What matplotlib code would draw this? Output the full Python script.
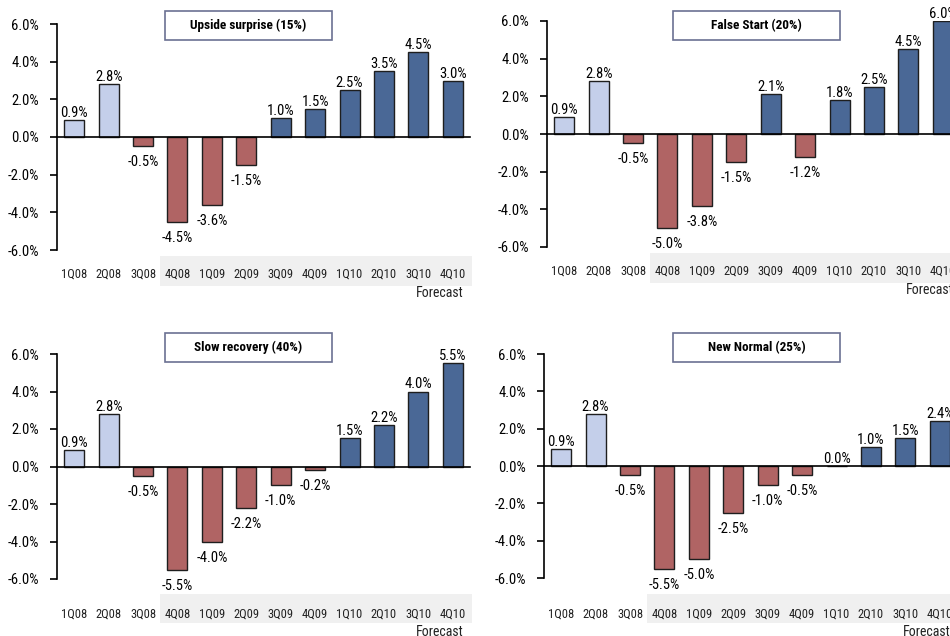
import matplotlib
matplotlib.use("Agg")
import matplotlib.pyplot as plt
from matplotlib.patches import Rectangle
from matplotlib.transforms import blended_transform_factory

plt.rcParams['font.family'] = ['Liberation Sans Narrow', 'Arial Narrow', 'Roboto Condensed',
                               'PT Sans Narrow', 'Archivo Narrow', 'Liberation Sans',
                               'DejaVu Sans']

quarters = ["1Q08", "2Q08", "3Q08", "4Q08", "1Q09", "2Q09",
            "3Q09", "4Q09", "1Q10", "2Q10", "3Q10", "4Q10"]

upside_surprise = [0.9, 2.8, -0.5, -4.5, -3.6, -1.5, 1.0, 1.5, 2.5, 3.5, 4.5, 3.0]
false_start = [0.9, 2.8, -0.5, -5.0, -3.8, -1.5, 2.1, -1.2, 1.8, 2.5, 4.5, 6.0]
slow_recovery = [0.9, 2.8, -0.5, -5.5, -4.0, -2.2, -1.0, -0.2, 1.5, 2.2, 4.0, 5.5]
new_normal = [0.9, 2.8, -0.5, -5.5, -5.0, -2.5, -1.0, -0.5, 0.0, 1.0, 1.5, 2.4]

titles = ["Upside surprise (15%)", "False Start (20%)",
          "Slow recovery (40%)", "New Normal (25%)"]
series = [upside_surprise, false_start, slow_recovery, new_normal]

yticks = [-6, -4, -2, 0, 2, 4, 6]
n_actual = 2          # quarters shown as reported figures
shade_from = 2.5      # start of the shaded band under the x labels

C_ACTUAL = "#c4cfea"
C_NEG = "#b06464"
C_POS = "#4a6896"
C_EDGE = "#1e1e1e"

W, H = 950, 636
fig = plt.figure(figsize=(W / 100, H / 100), dpi=100)

# panel boxes in pixels: (left, top, width, bottom), title box (x0, x1, y0, y1),
# and the gap below the axes for (band top, band bottom, label pad in pt, "Forecast")
panels = [
    ((57, 24, 413, 250), (165, 332, 11, 40), (6, 36, 12.8, 43)),
    ((547, 21, 413, 247), (673, 840, 11, 40), (6, 36, 12.8, 43)),
    ((57, 354, 413, 579), (165, 332, 333, 362), (15, 44, 20.7, 53)),
    ((544, 354, 413, 578), (673, 840, 333, 362), (16, 45, 21.0, 54)),
]

for (box, tbox, gap), title, vals in zip(panels, titles, series):
    left, top, width, bottom = box
    band_top, band_bot, label_pad, fc_off = gap
    h_ax = bottom - top
    ax = fig.add_axes([left / W, 1 - bottom / H, width / W, h_ax / H])
    x = list(range(len(quarters)))
    colors = [C_ACTUAL if i < n_actual else (C_NEG if v < 0 else C_POS)
              for i, v in enumerate(vals)]
    ax.bar(x, vals, width=0.58, color=colors, edgecolor=C_EDGE, linewidth=1.0, zorder=2)
    ax.set_xlim(-0.5, 11.5)
    ax.set_ylim(-6, 6)
    ax.axhline(0, color="black", linewidth=1.2, zorder=3, clip_on=False)

    for s in ["top", "right", "bottom"]:
        ax.spines[s].set_visible(False)
    ax.spines["left"].set_linewidth(1.2)
    ax.set_yticks(yticks)
    ax.set_yticklabels([f"{t:.1f}%" for t in yticks], fontsize=10.5)
    ax.tick_params(axis="y", direction="out", length=5, width=1.2, pad=8)
    ax.set_xticks(x)
    ax.set_xticklabels(quarters, fontsize=9, color="#222222")
    ax.tick_params(axis="x", length=0, pad=label_pad)

    for i, v in enumerate(vals):
        dy = 7 if v >= 0 else -16
        ax.annotate(f"{v:.1f}%", (i, v), xytext=(0, dy), textcoords="offset pixels",
                    ha="center", va="center", fontsize=10.5, zorder=4)

    # shaded band behind the forecast-period labels
    trans = blended_transform_factory(ax.transData, ax.transAxes)
    band = Rectangle((shade_from, -band_bot / h_ax), 11.56 - shade_from,
                     (band_bot - band_top) / h_ax, transform=trans,
                     facecolor="#f0f0f0", edgecolor="none", clip_on=False, zorder=0)
    ax.add_patch(band)
    ax.text(11.3, -fc_off / h_ax, "Forecast", transform=trans,
            ha="right", va="center", fontsize=10, color="#222222")

    x0, x1, y0, y1 = tbox
    fig.patches.append(Rectangle((x0 / W, 1 - y1 / H), (x1 - x0) / W, (y1 - y0) / H,
                                 transform=fig.transFigure, facecolor="white",
                                 edgecolor="#6b7192", linewidth=1.2))
    fig.text((x0 + x1) / 2 / W, 1 - (y0 + y1) / 2 / H, title, ha="center", va="center",
             fontsize=9.5, fontweight="bold")

fig.savefig("out.png", dpi=100)
